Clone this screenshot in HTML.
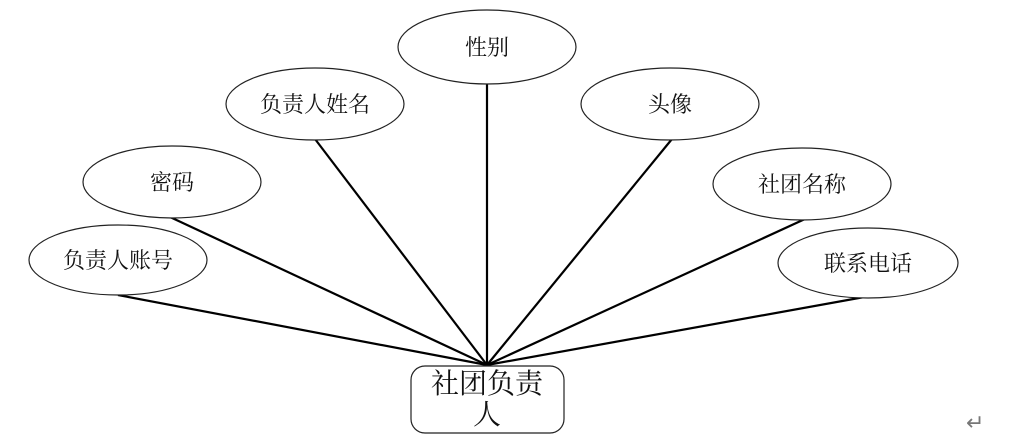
<!DOCTYPE html>
<html><head><meta charset="utf-8"><style>
html,body{margin:0;padding:0;background:#fff;}
svg{display:block;}
text{font-family:"Liberation Serif","Noto Serif CJK SC","Noto Sans CJK SC",serif;fill:#111;}
</style></head><body>
<svg width="1029" height="441" viewBox="0 0 1029 441" xmlns="http://www.w3.org/2000/svg">
<g stroke="#000" stroke-width="2.2" fill="none">
<line x1="487" y1="84" x2="487" y2="365"/>
<line x1="315" y1="139" x2="487" y2="365"/>
<line x1="672" y1="139" x2="487" y2="365"/>
<line x1="170" y1="217" x2="487" y2="365"/>
<line x1="805" y1="219" x2="487" y2="365"/>
<line x1="118" y1="295" x2="487" y2="365"/>
<line x1="870" y1="296" x2="487" y2="365"/>
</g>
<g stroke="#222" stroke-width="1.2" fill="#fff">
<ellipse cx="487" cy="47" rx="89" ry="37"/>
<ellipse cx="315" cy="104" rx="89" ry="36"/>
<ellipse cx="670" cy="104" rx="89" ry="36"/>
<ellipse cx="172" cy="182" rx="89" ry="36"/>
<ellipse cx="802" cy="184" rx="89" ry="36"/>
<ellipse cx="118" cy="260" rx="89" ry="35"/>
<ellipse cx="868" cy="263" rx="90" ry="35"/>
<rect x="411" y="366" width="153" height="67" rx="14" ry="14"/>
</g>
<g font-size="22" text-anchor="middle">
<text x="487" y="55">性别</text>
<text x="315" y="112">负责人姓名</text>
<text x="670" y="112">头像</text>
<text x="172" y="190">密码</text>
<text x="802" y="192">社团名称</text>
<text x="118" y="268">负责人账号</text>
<text x="868" y="271">联系电话</text>
</g>
<g font-size="28" text-anchor="middle">
<text x="487" y="393">社团负责</text>
<text x="487" y="424">人</text>
</g>
<text x="966" y="430" font-size="22" style="fill:#777">↵</text>
</svg>
</body></html>
